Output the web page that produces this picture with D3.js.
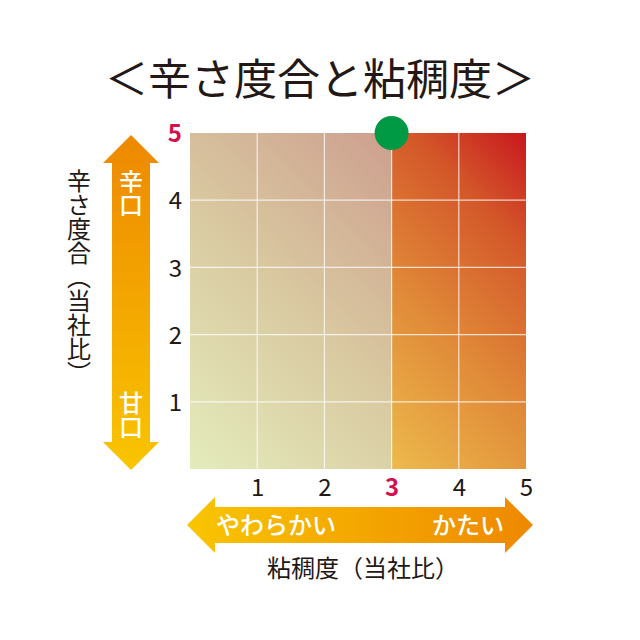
<!DOCTYPE html>
<html><head><meta charset="utf-8">
<script src="https://cdn.jsdelivr.net/npm/d3@7"></script>
<style>html,body{margin:0;padding:0;background:#fff;}svg{display:block;}text{text-spacing-trim:space-all;}</style>
</head><body>
<svg id="c" width="640" height="640"></svg>
<script>
// ---- data ----
const title = "＜辛さ度合と粘稠度＞";
const xLabel = "粘稠度（当社比）";
const yLabel = "辛さ度合（当社比）";
const xTicks = [1, 2, 3, 4, 5];
const yTicks = [1, 2, 3, 4, 5];
const zoneBreaks = [0, 3, 5];
const product = { viscosity: 3, spiciness: 5 };
const xArrowLabels = ["やわらかい", "かたい"];
const yArrowLabels = ["辛口", "甘口"];

const svg = d3.select("#c");
const font = "'Noto Sans CJK JP','Noto Sans',sans-serif";
const ink = "#231815", hi = "#d4104c";

const L = 190, R = 526, T = 133, B = 469;
const x = d3.scaleLinear().domain([0, 5]).range([L, R]);
const y = d3.scaleLinear().domain([0, 5]).range([B, T]);

const defs = svg.append("defs");
function diagGrad(id, x0, x1, stops) {
  const w = x(x1) - x(x0), h = B - T;
  const d = (w + h) / 2;
  const g = defs.append("linearGradient").attr("id", id).attr("gradientUnits", "userSpaceOnUse")
    .attr("x1", x(x0)).attr("y1", B).attr("x2", x(x0) + d).attr("y2", B - d);
  stops.forEach(s => g.append("stop").attr("offset", s[0]).attr("stop-color", s[1]));
}
diagGrad("gL", zoneBreaks[0], zoneBreaks[1], [[0, "#e4ecbb"], [0.5, "#d9c9a0"], [1, "#cd9f8f"]]);
diagGrad("gR", zoneBreaks[1], zoneBreaks[2], [[0, "#edba4c"], [0.4, "#e08a38"], [0.75, "#d4582a"], [1, "#c8171e"]]);

const zones = [[zoneBreaks[0], zoneBreaks[1], "url(#gL)"], [zoneBreaks[1], zoneBreaks[2], "url(#gR)"]];
svg.selectAll("rect.zone").data(zones).enter().append("rect").attr("class", "zone")
  .attr("x", d => x(d[0])).attr("width", d => x(d[1]) - x(d[0]))
  .attr("y", y(5)).attr("height", y(0) - y(5)).attr("fill", d => d[2]);

// grid
const g = svg.append("g");
g.selectAll("line.v").data(xTicks.slice(0, -1)).enter().append("line")
  .attr("x1", d => x(d)).attr("x2", d => x(d)).attr("y1", T).attr("y2", B)
  .attr("stroke", "#fff").attr("stroke-opacity", 0.75).attr("stroke-width", 1.2);
g.selectAll("line.h").data(yTicks.slice(0, -1)).enter().append("line")
  .attr("y1", d => y(d)).attr("y2", d => y(d)).attr("x1", L).attr("x2", R)
  .attr("stroke", "#fff").attr("stroke-opacity", 0.75).attr("stroke-width", 1.2);

// axes tick labels
const fmt = d3.format("d");
const xAxis = d3.axisBottom(x).tickValues(xTicks).tickFormat(fmt).tickSize(0).tickPadding(0);
const xa = svg.append("g").attr("transform", `translate(0,${B + 27})`).call(xAxis);
xa.select(".domain").remove();
xa.selectAll("text").attr("font-family", font).attr("font-size", 24).attr("dy", "0")
  .attr("fill", d => d === product.viscosity ? hi : ink)
  .attr("font-weight", d => d === product.viscosity ? 700 : 400);

const yAxis = d3.axisLeft(y).tickValues(yTicks).tickFormat(fmt).tickSize(0).tickPadding(0);
const ya = svg.append("g").attr("transform", `translate(${L - 8},0)`).call(yAxis);
ya.select(".domain").remove();
ya.selectAll("text").attr("font-family", font).attr("font-size", 24).attr("dy", "0.36em")
  .attr("fill", d => d === product.spiciness ? hi : ink)
  .attr("font-weight", d => d === product.spiciness ? 700 : 400);

// point
svg.append("circle").attr("cx", x(product.viscosity)).attr("cy", y(product.spiciness))
  .attr("r", 17).attr("fill", "#009944");

// title
svg.append("text").attr("x", 320).attr("y", 95).attr("text-anchor", "middle")
  .attr("font-family", font).attr("font-size", 43).attr("fill", ink).text(title);

// horizontal arrow
const ha = defs.append("linearGradient").attr("id", "ha").attr("x1", 0).attr("x2", 1).attr("y1", 0).attr("y2", 0);
ha.append("stop").attr("offset", 0).attr("stop-color", "#f9c500");
ha.append("stop").attr("offset", 1).attr("stop-color", "#ee8800");
const hy = 525, hl = 187, hr = 533, hh = 28, hs = 18, hw = 28;
svg.append("path").attr("fill", "url(#ha)").attr("d",
  `M${hl},${hy} L${hl + hw},${hy - hh} L${hl + hw},${hy - hs} L${hr - hw},${hy - hs} L${hr - hw},${hy - hh} L${hr},${hy} L${hr - hw},${hy + hh} L${hr - hw},${hy + hs} L${hl + hw},${hy + hs} L${hl + hw},${hy + hh} Z`);
svg.append("text").attr("x", 216).attr("y", hy + 9).attr("font-family", font).attr("font-size", 24)
  .attr("font-weight", 500).attr("fill", "#fff").text(xArrowLabels[0]);
svg.append("text").attr("x", 504).attr("y", hy + 9).attr("text-anchor", "end").attr("font-family", font)
  .attr("font-size", 24).attr("font-weight", 500).attr("fill", "#fff").text(xArrowLabels[1]);

// vertical arrow
const va = defs.append("linearGradient").attr("id", "va").attr("x1", 0).attr("x2", 0).attr("y1", 0).attr("y2", 1);
va.append("stop").attr("offset", 0).attr("stop-color", "#ee8800");
va.append("stop").attr("offset", 1).attr("stop-color", "#f9c500");
const vx = 131, vt = 135, vb = 470, vh = 28, vs = 19, vw = 28;
svg.append("path").attr("fill", "url(#va)").attr("d",
  `M${vx},${vt} L${vx + vh},${vt + vw} L${vx + vs},${vt + vw} L${vx + vs},${vb - vw} L${vx + vh},${vb - vw} L${vx},${vb} L${vx - vh},${vb - vw} L${vx - vs},${vb - vw} L${vx - vs},${vt + vw} L${vx - vh},${vt + vw} Z`);
svg.append("text").attr("x", vx).attr("y", 193).attr("text-anchor", "middle")
  .style("writing-mode", "vertical-rl").attr("font-family", font).attr("font-size", 24)
  .attr("font-weight", 500).attr("fill", "#fff").text(yArrowLabels[0]);
svg.append("text").attr("x", vx).attr("y", 415).attr("text-anchor", "middle")
  .style("writing-mode", "vertical-rl").attr("font-family", font).attr("font-size", 24)
  .attr("font-weight", 500).attr("fill", "#fff").text(yArrowLabels[1]);

// axis titles
svg.append("text").attr("x", 363).attr("y", 577).attr("text-anchor", "middle")
  .attr("font-family", font).attr("font-size", 24).attr("fill", ink).text(xLabel);
svg.append("text").attr("x", 79).attr("y", 277).attr("text-anchor", "middle")
  .style("writing-mode", "vertical-rl").attr("font-family", font).attr("font-size", 24)
  .attr("fill", ink).text(yLabel);
</script>
</body></html>
